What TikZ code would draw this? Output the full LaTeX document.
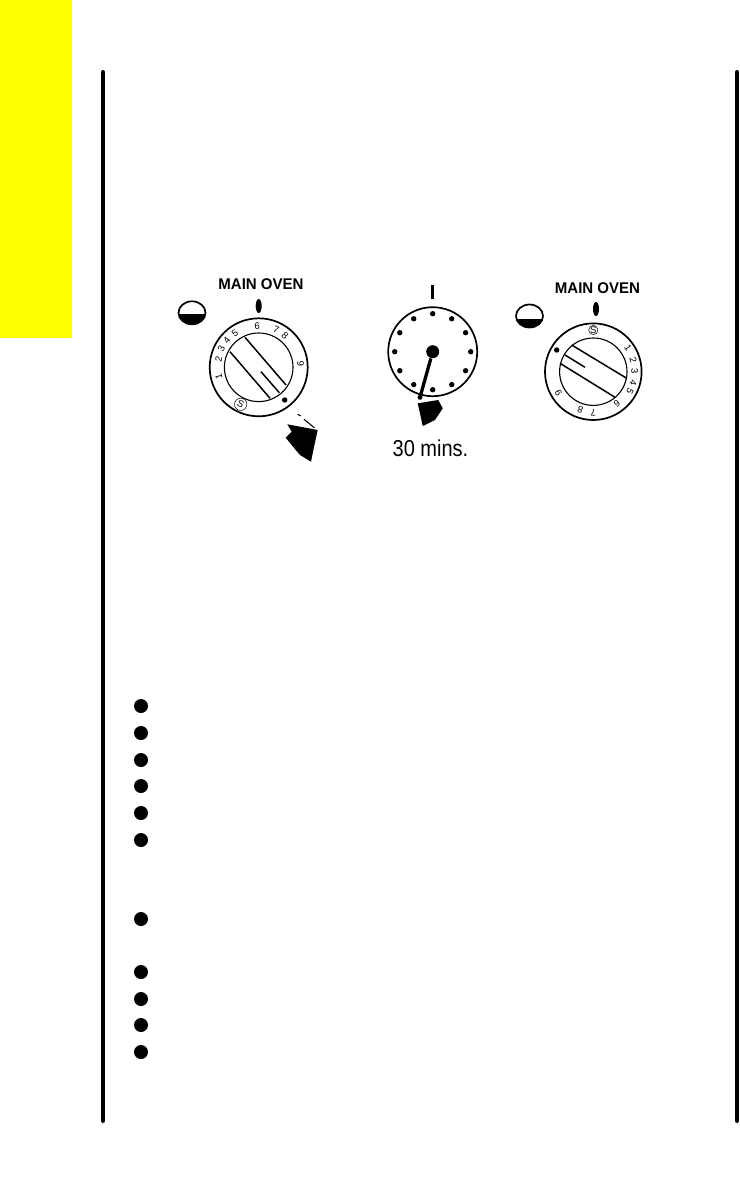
\documentclass[tikz,border=0pt]{standalone}
\usepackage{fontspec}
\setmainfont{Liberation Sans}
\usetikzlibrary{calc}
\definecolor{tabyellow}{RGB}{255,255,0}
\begin{document}
\begin{tikzpicture}[x=1pt,y=-1pt,line width=1pt,
  rule/.style={line width=4pt,line cap=round},
  ring/.style={line width=1.7pt},
  slot/.style={line width=1.5pt},
  digit/.style={font=\fontsize{9.5}{10}\selectfont,inner sep=0pt},
  title/.style={font=\bfseries\fontsize{15.5}{16}\selectfont,inner sep=0pt,xscale=.97},
  bullet/.style={circle,fill=black,minimum size=14pt,inner sep=0pt},
  tick/.style={circle,fill=black,minimum size=5.4pt,inner sep=0pt}]
  \useasboundingbox (0,0) rectangle (739,1180);
  \fill[tabyellow] (0,0) rectangle (72,338);
  % side rules
  \draw[rule] (103,72)--(103,1121);
  \draw[rule] (737,72)--(737,1121);
  % left knob
  \node[title] (titleA) at (261,284){MAIN OVEN};
  \fill (258.7,306) ellipse (3 and 7);
  \begin{scope}
    \clip (170,314.5) rectangle (215,330);
    \fill (192,312.8) ellipse (14 and 12);
  \end{scope}
  \draw[ring] (192,312.8) ellipse (13.5 and 11.5);
  \draw[ring] (258.7,367.3) circle (49);
  \draw[line width=1.1pt] (258.7,367.3) circle (34.3);
  \draw[slot] (245,337.3)--(286,385);
  \draw[slot] (230,351.7)--(270,398.3);
  \draw[slot] (261,371.7)--(279.3,392.7);
  \foreach \d/\a/\r in {1/194/41,2/168/41,3/154/41.5,4/140/41.5,5/125/41.5,6/92/41,7/65/41,8/50/41,9/5/42}
    \node[digit,rotate=\a-90] (dialA\d) at ($(258.7,367.3)+(-\a:\r)$){\d};
  \node[tick] (dotA) at (284.7,400){};
  \node[circle,draw,line width=.5pt,inner sep=.8pt,digit] (setA) at (240.7,404.3){\rotatebox{-26}{S}};
  % left arrow
  \draw[line width=1.1pt] (297.7,414.3)--(300.7,416);
  \draw[line width=1.1pt] (304,419.3)--(314.3,427.7);
  \fill (287.3,424.3)--(317.7,430)--(314,447)--(311,461.7)--(300,455)--(293,446.7)--(285.7,437.7)--(291.7,431.7)--cycle;
  % timer
  \draw[line width=2.6pt] (432.7,285)--(432.7,299);
  \draw[ring] (432.7,351.7) circle (44.5);
  \foreach \a in {0,30,...,330}
    \node[tick] at ($(432.7,351.7)+(\a:38)$){};
  \node[circle,fill=black,minimum size=13pt,inner sep=0pt] (hub) at (432.7,351.7){};
  \node[circle,fill=black,minimum size=5pt,inner sep=0pt] (tip) at (420,397.3){};
  \draw[line width=3.3pt] (hub)--(tip);
  \fill (417.7,403.3)--(438.3,400)--(442.7,408.3)--(435,420)--(422.7,426)--(420,413.3)--cycle;
  \node[inner sep=0pt,font=\fontsize{23}{23}\selectfont,xscale=.87] (mins) at (430.5,448){30 mins.};
  % right knob
  \node[title] (titleB) at (597.5,288){MAIN OVEN};
  \fill (596,309) ellipse (3 and 7);
  \begin{scope}
    \clip (510,319) rectangle (550,335);
    \fill (529.5,316) ellipse (14 and 12);
  \end{scope}
  \draw[ring] (529.5,316) ellipse (13.5 and 11.5);
  \draw[ring] (593.3,371.7) circle (48.3);
  \draw[line width=1.1pt] (593.3,371.7) circle (33.7);
  \draw[slot] (571.7,345)--(626.7,378.3);
  \draw[slot] (560,363.3)--(615,397.3);
  \draw[slot] (565,355)--(585,367.3);
  \foreach \d/\a/\r in {1/34/42,2/16/41.5,3/1/41.5,4/-15/41.5,5/-28/41.5,6/-54/40,7/-90/41,8/-109/40,9/-148/41}
    \node[digit,rotate=\a-90] (dialB\d) at ($(593.3,371.7)+(-\a:\r)$){\d};
  \node[tick] (dotB) at (556.7,350){};
  \node[circle,draw,line width=.5pt,inner sep=.8pt,digit] (setB) at (593.3,330){S};
  % list bullets
  \foreach \n/\y in {a/706,b/733,c/760,d/786,e/813,f/840,g/919,h/972,i/999,j/1025,k/1052}
    \node[bullet] (item\n) at (141,\y){};
\end{tikzpicture}
\end{document}
